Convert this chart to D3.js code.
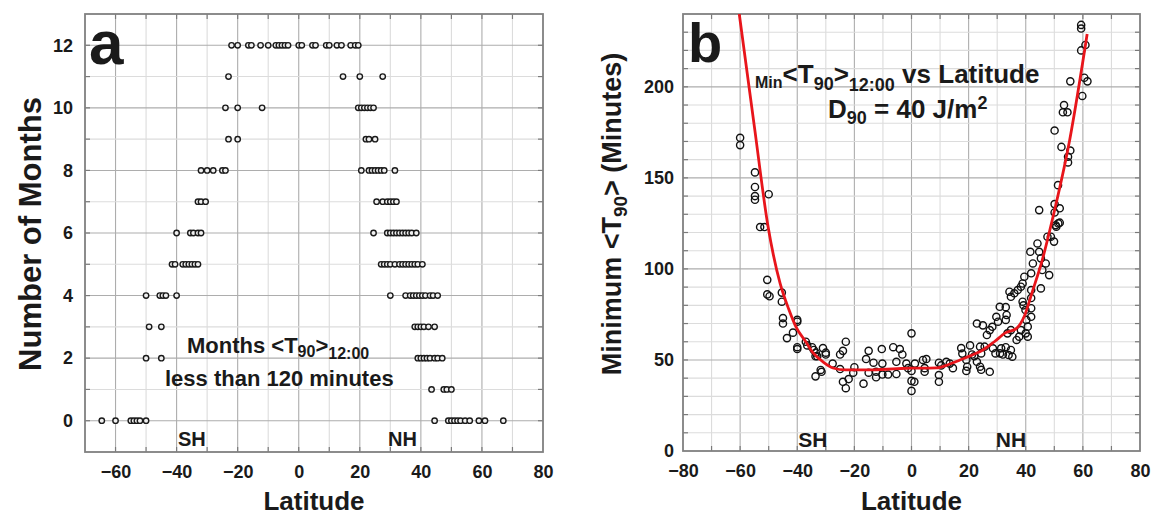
<!DOCTYPE html>
<html>
<head>
<meta charset="utf-8">
<script src="https://cdn.jsdelivr.net/npm/d3@7"></script>
<style>
  body { margin: 0; background: #fff; }
  svg text { font-family: "Liberation Sans", Arial, sans-serif; font-weight: bold; fill: #1a1a1a; white-space: pre; }
</style>
</head>
<body>
<script>
'use strict';

// panel a: latitude of every dot, one array per month row
var months0  = [-64.5, -60, -55, -54, -53, -52, -50, 44.5, 49, 50, 51, 52, 53, 54.5, 56, 59, 61, 67];
var months1  = [43.5, 47.5, 48.5, 50];
var months2  = [-50, -45, 39, 40, 41, 42, 43, 44.5, 45.5, 47];
var months3  = [-49, -45, 38, 39, 40, 41, 42.5, 44.5];
var months4  = [-50, -45.5, -44.5, -43.5, -40, 30, 35, 36.5, 37.5, 38.5, 39.5, 40.5, 41.5, 43, 44, 45.5];
var months5  = [-41.5, -40.5, -38, -37, -36, -35, -34, -33, 27, 28, 29, 30, 31.5, 33, 34, 35, 36, 37, 38, 39, 40.5];
var months6  = [-40, -35.5, -34.5, -33, -32, 24.5, 29, 30, 31, 32, 33, 34, 35, 36, 37, 38.5];
var months7  = [-33, -32, -30.5, 25.5, 27.5, 29, 30, 31, 32];
var months8  = [-32, -30, -28, -25, -24, 20.5, 23, 24, 25, 26, 27, 28, 31.5];
var months9  = [-23, -20, 22, 23, 25];
var months10 = [-24, -20, -12, 19.5, 20.5, 21.5, 22.5, 23.5, 24.5];
var months11 = [-23, 14.5, 20, 27.5];
var months12 = [-22, -20, -16.5, -15.5, -12.5, -10, -7.5, -6.5, -5.5, -4.5, -3.5, 0, 1, 4.5, 5.5, 9, 10, 12.5, 14, 17, 18.5, 19.5];
var monthRows = [months0, months1, months2, months3, months4, months5, months6,
                 months7, months8, months9, months10, months11, months12];

// panel b: minimum <T90> (minutes) against latitude
var minLat = [-60, -60, -54.8, -54.8, -54.8, -54.8, -50, -53, -51.5,
  -50.5, -50.5, -49.7, -45.4, -45.4, -45, -45, -43.6, -41.5, -40, -40, -40, -40,
  -37, -36.5, -34.8, -34.2, -33.6, -33.5, -33, -33.6, -31.8, -31.5, -31, -30, -30,
  -27.6, -25, -24, -23, -25, -24, -23, -22, -20.4, -20,
  -16.8, -15.9, -15, -15, -13.3, -12.4, -12.4, -10.4, -10.2, -10.2, -8.2, -6.4, -5.3, -5.3,
  -4.1, -3.2, -1.8, -1.2, 0, 0, 0, 1, 0, 1.2,
  4, 5.2, 4.6, 4.6, 9.6, 10.4, 9.6, 9.6, 12.2, 13.4, 14.5,
  17.4, 17.8, 19.2, 19.5, 19.2, 20.5, 21.2, 22, 22.9, 24, 24.4, 24, 24.4, 22.9, 25, 25.6, 26.4,
  27.4, 27.4, 28.3, 28.5, 29.4, 29.7, 30.3, 30.9, 31, 31.4, 32, 33, 33.3, 33, 33, 34, 34.8, 35.3,
  33.6, 34.8, 34.8, 34.3, 36, 37.2, 38.3, 36.8, 37.7, 38.3, 38.9, 39.2, 39.9, 40.2, 40.7, 40, 40.7,
  38.9, 39.5, 41.9, 42.5, 41.6, 41.9, 41.9, 41.9, 41.9, 44.1, 44.7, 45.3, 45.8, 47, 48.2, 45.3,
  47.6, 48.8, 49.9, 50.5, 51.4,
  59.4, 59.4, 59.4, 60.9, 55.6, 60.5, 61.6, 59.8, 53.4, 53, 54.6, 50.1, 52.5, 55.6, 54.8, 54.8,
  51.3, 50.1, 51.9, 50.1, 44.7, 51.9, 50.7];
var minT90 = [172, 168, 153, 145, 140, 138, 141, 123, 123,
  94, 86, 85, 87, 82, 73, 70, 62, 65, 72, 71, 57, 56,
  60, 58, 57, 55.5, 52, 54, 52, 41, 44.5, 43.5, 56.5, 54, 53,
  48, 53, 55, 60, 45, 38, 34.5, 39.5, 43, 46,
  37, 50.5, 55, 43, 48.5, 40.5, 43.5, 56, 48, 42, 42, 57, 49, 42.3,
  56, 53, 48, 45.5, 64.6, 44, 38.5, 38, 33, 48,
  50, 50.5, 45.5, 43.5, 48.5, 47, 41.7, 38, 49, 48, 45.5,
  56.5, 53.5, 50, 46.3, 44, 58, 53, 52, 49, 57.3, 53.6, 46.3, 44.6, 70, 69, 57.3, 63.7,
  43.5, 66.4, 68.2, 56.4, 53.6, 73.7, 71, 79.2, 53.6, 56.4, 53, 79, 74.7, 72, 57, 52.7, 55.5, 51.8,
  64.6, 66.4, 84.7, 87.5, 86.6, 88.4, 90.2, 61, 62.8, 66.4, 82, 80, 77.4, 72, 68.3, 64.6, 62.8,
  92, 95.7, 97.6, 103, 109.4, 88.4, 84, 78.4, 73.7, 114, 109.4, 105.8, 99.4, 103, 96.6, 89.3,
  117.7, 117.7, 115, 124, 125,
  234, 232, 220, 223, 203, 205, 203, 195, 190, 186, 186, 176, 167, 165, 161.6, 158.5,
  146, 135.6, 133.3, 131, 132.3, 125.4, 123.2];

// fitted red curve
var fitLat = [-60.3, -55, -50.3, -46, -43, -40.4, -37, -34.5, -31, -27.5, -23, -15, -5, 0, 8.8,
  13, 17, 21, 25, 29, 33, 36.5, 39.5, 42.2, 45.8, 49.3, 55.4, 61.5];
var fitT90 = [240, 178, 124, 92, 78, 68, 60, 54, 49, 45.6, 44.5, 44.5, 45.2, 45.5, 45.6,
  47.5, 50, 52.5, 55.5, 60, 65, 67, 74, 87, 105, 127, 171, 229];

// tick labels
var xTicksA = [-60, -40, -20, 0, 20, 40, 60, 80];
var yTicksA = [0, 2, 4, 6, 8, 10, 12];
var xTicksB = [-80, -60, -40, -20, 0, 20, 40, 60, 80];
var yTicksB = [0, 50, 100, 150, 200];

var svg = d3.select("body").append("svg")
            .attr("width", 1153)
            .attr("height", 516);

drawPanelA();
drawPanelB();


// grid, inner ticks and frame of one panel
function drawFrame(g, x, y, xStep, xMajor, yStep, yMajor) {
    var x0 = x.range()[0], x1 = x.range()[1];
    var y0 = y.range()[0], y1 = y.range()[1];
    var xs = d3.range(Math.ceil(x.domain()[0] / xStep) * xStep, x.domain()[1] + 1e-6, xStep)
               .filter(v => x(v) > x0 + 1 && x(v) < x1 - 1);
    var ys = d3.range(Math.ceil(y.domain()[0] / yStep) * yStep, y.domain()[1] + 1e-6, yStep)
               .filter(v => y(v) < y0 - 1 && y(v) > y1 + 1);

    g.selectAll("line.vgrid").data(xs).enter().append("line")
     .attr("x1", d => x(d)).attr("x2", d => x(d))
     .attr("y1", y1).attr("y2", y0)
     .attr("stroke", d => d % xMajor === 0 ? "#adadad" : "#dcdcdc")
     .attr("stroke-width", 1.1);
    g.selectAll("line.hgrid").data(ys).enter().append("line")
     .attr("x1", x0).attr("x2", x1)
     .attr("y1", d => y(d)).attr("y2", d => y(d))
     .attr("stroke", d => d % yMajor === 0 ? "#adadad" : "#dcdcdc")
     .attr("stroke-width", 1.1);

    // small ticks pointing inward on all four sides
    var t = 5;
    var ticks = g.append("g").attr("stroke", "#7a7a7a").attr("stroke-width", 1.2);
    xs.forEach(function (v) {
        ticks.append("line").attr("x1", x(v)).attr("x2", x(v)).attr("y1", y0).attr("y2", y0 - t);
        ticks.append("line").attr("x1", x(v)).attr("x2", x(v)).attr("y1", y1).attr("y2", y1 + t);
    });
    ys.forEach(function (v) {
        ticks.append("line").attr("x1", x0).attr("x2", x0 + t).attr("y1", y(v)).attr("y2", y(v));
        ticks.append("line").attr("x1", x1).attr("x2", x1 - t).attr("y1", y(v)).attr("y2", y(v));
    });

    g.append("rect")
     .attr("x", x0).attr("y", y1)
     .attr("width", x1 - x0).attr("height", y0 - y1)
     .attr("fill", "none")
     .attr("stroke", "#808080")
     .attr("stroke-width", 1.8);
}

// tick labels with d3 axes, no lines
function drawAxes(g, x, y, xTicks, yTicks, yPad) {
    var bottom = g.append("g")
                  .attr("transform", "translate(0," + y.range()[0] + ")")
                  .call(d3.axisBottom(x).tickValues(xTicks).tickSize(0).tickPadding(13));
    var left = g.append("g")
                .attr("transform", "translate(" + x.range()[0] + ",0)")
                .call(d3.axisLeft(y).tickValues(yTicks).tickSize(0).tickPadding(yPad));
    [bottom, left].forEach(function (a) {
        a.select(".domain").remove();
        a.selectAll("text")
         .attr("font-size", 18)
         .attr("font-family", null)
         .attr("fill", "#1a1a1a");
    });
}

// text made of pieces with their own size and vertical shift (sub/superscripts)
function richText(g, x, y, parts, anchor) {
    var t = g.append("text").attr("x", x).attr("y", y).attr("text-anchor", anchor || "start");
    parts.forEach(function (p) {
        t.append("tspan").attr("font-size", p[1]).attr("dy", p[2] || 0).text(p[0]);
    });
    return t;
}

function drawPanelA() {
    var g = svg.append("g");
    var x = d3.scaleLinear().domain([-70, 80]).range([85, 543]);
    var y = d3.scaleLinear().domain([-1, 13]).range([452, 14]);

    drawFrame(g, x, y, 10, 20, 1, 2);
    drawAxes(g, x, y, xTicksA, yTicksA, 12);

    var dots = [];
    monthRows.forEach((row, m) => row.forEach(lat => dots.push({lat: lat, m: m})));

    g.append("g").selectAll("circle")
     .data(dots)
     .enter()
     .append("circle")
     .attr("cx", d => x(d.lat))
     .attr("cy", d => y(d.m))
     .attr("r", 2.7)
     .attr("fill", "#f0f0f0")
     .attr("stroke", "#1a1a1a")
     .attr("stroke-width", 1.4);

    g.append("text").attr("x", 89).attr("y", 64).attr("font-size", 62).text("a");

    richText(g, 187, 353, [["Months <T", 22], ["90", 16, 4], [">", 22, -4], ["12:00", 16, 6]]);
    richText(g, 165, 386, [["less than 120 minutes", 22]]);

    g.append("text").attr("x", x(-35)).attr("y", 446).attr("text-anchor", "middle")
     .attr("font-size", 20).text("SH");
    g.append("text").attr("x", x(34)).attr("y", 446).attr("text-anchor", "middle")
     .attr("font-size", 20).text("NH");

    g.append("text").attr("x", (x.range()[0] + x.range()[1]) / 2).attr("y", 510)
     .attr("text-anchor", "middle").attr("font-size", 26).text("Latitude");
    g.append("text").attr("transform", "translate(41,234) rotate(-90)")
     .attr("text-anchor", "middle").attr("font-size", 31).text("Number of Months");
}

function drawPanelB() {
    var g = svg.append("g");
    var x = d3.scaleLinear().domain([-80, 80]).range([683, 1140]);
    var y = d3.scaleLinear().domain([0, 240]).range([451, 14]);

    drawFrame(g, x, y, 10, 20, 10, 50);
    drawAxes(g, x, y, xTicksB, yTicksB, 9);

    g.append("clipPath").attr("id", "clipB")
     .append("rect")
     .attr("x", 683).attr("y", 14)
     .attr("width", 1140 - 683).attr("height", 451 - 14);

    g.append("g").selectAll("circle")
     .data(minLat.map((lat, i) => [lat, minT90[i]]))
     .enter()
     .append("circle")
     .attr("cx", d => x(d[0]))
     .attr("cy", d => y(d[1]))
     .attr("r", 3.6)
     .attr("fill", "none")
     .attr("stroke", "#111")
     .attr("stroke-width", 1.4);

    var line = d3.line()
                 .x(d => x(d[0]))
                 .y(d => y(d[1]))
                 .curve(d3.curveMonotoneX);
    g.append("path")
     .attr("clip-path", "url(#clipB)")
     .attr("d", line(fitLat.map((lat, i) => [lat, fitT90[i]])))
     .attr("fill", "none")
     .attr("stroke", "#e8151b")
     .attr("stroke-width", 2.8);

    g.append("text").attr("x", 688).attr("y", 62).attr("font-size", 56).text("b");

    richText(g, 755, 88, [["Min", 16], ["<T", 26, -5], ["90", 18, 7], [">", 26, -7],
                          ["12:00", 18, 8], [" vs Latitude", 26, -8]]);
    richText(g, 828, 118, [["D", 26], ["90", 18, 6], [" = 40 J/m", 26, -6], ["2", 18, -9]]);

    g.append("text").attr("x", x(-34.5)).attr("y", 447).attr("text-anchor", "middle")
     .attr("font-size", 21).text("SH");
    g.append("text").attr("x", x(34.8)).attr("y", 447).attr("text-anchor", "middle")
     .attr("font-size", 21).text("NH");

    g.append("text").attr("x", (x.range()[0] + x.range()[1]) / 2).attr("y", 510)
     .attr("text-anchor", "middle").attr("font-size", 26).text("Latitude");
    richText(g, 0, 0, [["Minimum <T", 27], ["90", 19, 6], [">", 27, -6], [" (Minutes)", 27]], "middle")
     .attr("transform", "translate(621,214) rotate(-90)");
}
</script>
</body>
</html>
